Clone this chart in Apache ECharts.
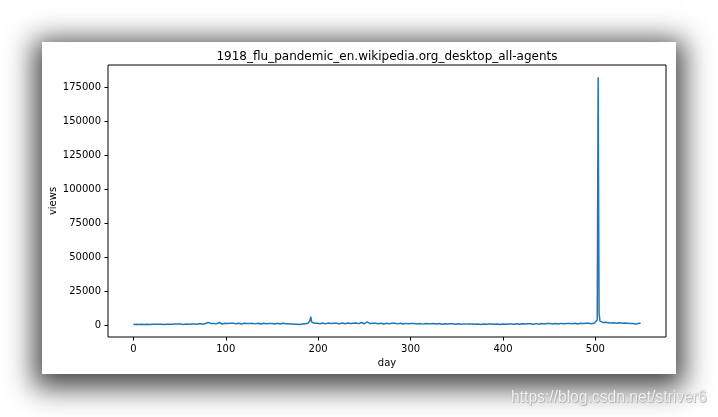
<!DOCTYPE html>
<html>
<head>
<meta charset="utf-8">
<script src="https://cdn.jsdelivr.net/npm/echarts@6/dist/echarts.min.js"></script>
<style>
  html, body { margin: 0; padding: 0; background: #fff; width: 718px; height: 417px; overflow: hidden; }
  #card { position: absolute; left: 42px; top: 42px; width: 634px; height: 332px; background: #fff;
          box-shadow: 0 6px 26px 8px rgba(0,0,0,0.72); }
  #chart { position: absolute; left: 0; top: 0; width: 718px; height: 417px; }
  #wm { position: absolute; left: 511px; top: 387px; font-family: "Liberation Sans Narrow", "Liberation Sans", sans-serif;
        font-size: 17px; color: #f2f2f2; text-shadow: 0 0 1px #9a9a9a, 1px 1px 1px #b0b0b0; transform-origin: left top;
        transform: scaleX(0.92); white-space: nowrap; }
</style>
</head>
<body>
<div id="card"></div>
<div id="chart"></div>
<div id="wm">https://blog.csdn.net/striver6</div>
<script>
const chartTitle = "1918_flu_pandemic_en.wikipedia.org_desktop_all-agents";
const xTicks = [0, 100, 200, 300, 400, 500];
const yTicks = [0, 25000, 50000, 75000, 100000, 125000, 150000, 175000];
const views = [
  820,850,870,840,760,650,700,
  830,860,880,850,770,660,720,
  850,880,900,870,790,680,740,
  880,910,930,900,1000,1900,900,
  880,950,1000,1800,1000,780,850,
  950,980,1000,960,880,760,820,
  1000,1050,1100,1050,1400,1900,1100,
  1000,1050,1080,1030,950,800,870,
  1050,1100,1120,1080,980,820,900,
  1150,1200,1250,1200,1050,900,1000,
  1400,1450,1500,1420,1200,1000,1100,
  1450,1500,1550,1700,2300,1600,1200,
  1500,1550,1600,1500,1300,1100,1200,
  1600,1650,2200,1600,1350,1100,1250,
  1650,1700,1680,1600,1400,1150,1250,
  1600,1650,1700,1620,1380,1120,1230,
  1580,1640,1660,1600,1350,1100,1200,
  1600,1680,1700,1630,1400,1150,1250,
  1550,1620,1650,1580,1350,1100,1200,
  1500,1580,1600,1550,1300,1050,1150,
  1550,1600,1620,1560,1320,1080,1180,
  1500,1560,1580,1520,1300,1050,1150,
  1600,1650,1700,1620,1380,1100,1200,
  1550,1600,1580,1500,1300,1050,1100,
  1300,1250,1200,1100,950,800,850,
  950,920,900,850,750,700,750,
  950,1050,1150,1250,1350,1150,1250,
  1600,2000,3500,6600,2500,1700,1500,
  1700,1750,1800,1700,1450,1200,1300,
  1700,1750,1780,1700,1450,1200,1300,
  1750,1800,1850,1750,1500,1250,1350,
  1700,1780,1800,1720,1480,1220,1320,
  1750,1800,1820,1750,1500,1250,1350,
  1800,1850,1900,1800,1550,1300,1400,
  1750,1820,1850,1780,1520,1280,1380,
  1800,1900,2200,1850,1550,1300,1400,
  1900,2700,2100,1800,1550,1300,1400,
  1700,1750,1780,1700,1450,1200,1300,
  1650,1700,1720,1650,1400,1150,1250,
  1600,1650,1680,1600,1380,1130,1230,
  1580,1640,1660,1600,1350,1100,1200,
  1550,1600,1620,1560,1320,1080,1180,
  1500,1560,1580,1520,1300,1050,1150,
  1480,1530,1550,1500,1280,1040,1130,
  1450,1500,1520,1460,1250,1020,1100,
  1400,1450,1480,1420,1220,1000,1080,
  1380,1420,1450,1400,1200,980,1050,
  1350,1400,1420,1360,1180,960,1030,
  1300,1350,1380,1320,1150,940,1000,
  1250,1300,1320,1270,1100,900,960,
  1200,1250,1270,1220,1050,880,930,
  1150,1200,1220,1180,1020,850,900,
  1100,1150,1170,1130,980,820,870,
  1080,1120,1140,1100,960,800,850,
  1050,1100,1120,1080,940,790,840,
  1050,1100,1120,1080,1300,1900,1000,
  1050,1100,1120,1080,940,790,840,
  1080,1120,1150,1100,960,810,860,
  1100,1150,1180,1130,980,830,880,
  1150,1200,1220,1180,1020,860,920,
  1200,1250,1280,1230,1060,900,960,
  1250,1300,1330,1280,1100,930,1000,
  1300,1360,1380,1330,1150,970,1050,
  1350,1400,1430,1380,1190,1000,1080,
  1400,1460,1480,1430,1230,1040,1120,
  1450,1500,1530,1480,1270,1070,1150,
  1500,1560,1580,1530,1310,1100,1200,
  1550,1600,1630,1570,1350,1140,1230,
  1600,1650,1680,1620,1390,1170,1270,
  1650,1700,1730,1670,1430,1200,1300,
  1700,1750,1780,1720,1470,1240,1340,
  1750,1800,1830,1900,2600,4000,182500,
  9000,3200,2600,2500,2300,2100,2200,
  2400,2300,2200,2100,1900,1700,1800,
  2200,2150,2100,2000,1800,1600,1700,
  2100,2050,2000,1900,1700,1500,1600,
  1900,1850,1800,1700,1500,1300,1400,
  1500,1450,1400,1300,1150,1000,1100,
  1500,1600,1650,1700
];
const days = views.map((v, i) => i);

const font = "DejaVu Sans";
const chart = echarts.init(document.getElementById('chart'), null, { renderer: 'canvas' });
chart.setOption({
  animation: false,
  backgroundColor: 'transparent',
  title: {
    text: chartTitle, left: 382, top: 46, textAlign: 'center',
    textStyle: { fontFamily: font, fontSize: 12, fontWeight: 'normal', color: '#000' }
  },
  grid: { left: 108, top: 65, width: 558, height: 272, show: true, borderColor: '#000', borderWidth: 1, backgroundColor: 'transparent' },
  xAxis: {
    type: 'value', min: -27.45, max: 576.45,
    name: 'day', nameLocation: 'middle', nameGap: 20,
    nameTextStyle: { fontFamily: font, fontSize: 10, color: '#000' },
    axisLine: { show: false, onZero: false },
    axisTick: { show: true, length: 3.5, lineStyle: { color: '#000', width: 1 }, customValues: xTicks },
    axisLabel: { margin: 7, fontFamily: font, fontSize: 10, color: '#000', customValues: xTicks },
    splitLine: { show: false }
  },
  yAxis: {
    type: 'value', min: -8450, max: 191600,
    name: 'views', nameLocation: 'middle', nameGap: 50, nameMoveOverlap: false,
    nameTextStyle: { fontFamily: font, fontSize: 10, color: '#000' },
    axisLine: { show: false, onZero: false },
    axisTick: { show: true, length: 3.5, lineStyle: { color: '#000', width: 1 }, customValues: yTicks },
    axisLabel: { margin: 7, fontFamily: font, fontSize: 10, color: '#000', customValues: yTicks,
                 formatter: v => String(v) },
    splitLine: { show: false }
  },
  series: [{
    type: 'line', data: days.map((d, i) => [d, views[i]]),
    showSymbol: false, symbol: 'none',
    lineStyle: { color: '#1f77b4', width: 1.5 },
    itemStyle: { color: '#1f77b4' }
  }]
});
</script>
</body>
</html>
